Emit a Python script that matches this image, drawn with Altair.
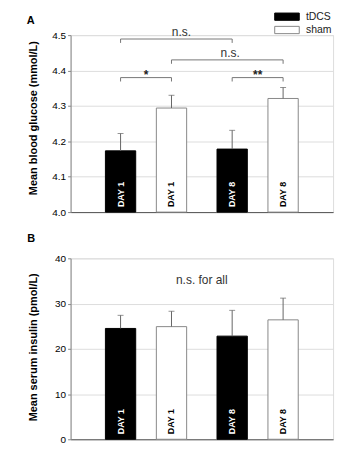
import altair as alt
import pandas as pd

FONT = "Liberation Sans"

groups = ["tDCS", "sham"]
days = ["DAY 1", "DAY 8"]

# Panel A: blood glucose (mmol/L), mean and error per day
glucose_tdcs = [4.173, 4.178]
glucose_sham = [4.294, 4.321]
glucose_tdcs_err = [0.049, 0.053]
glucose_sham_err = [0.036, 0.031]

# Panel B: serum insulin (pmol/L)
insulin_tdcs = [24.5, 22.8]
insulin_sham = [24.9, 26.4]
insulin_tdcs_err = [2.9, 5.7]
insulin_sham_err = [3.4, 4.8]

glucose_ticks = [4.0, 4.1, 4.2, 4.3, 4.4, 4.5]
insulin_ticks = [0, 10, 20, 30, 40]

# significance brackets (panel A)
br_from_day = ["DAY 1", "DAY 1", "DAY 1", "DAY 8"]
br_from_group = ["tDCS", "sham", "tDCS", "tDCS"]
br_to_day = ["DAY 8", "DAY 8", "DAY 1", "DAY 8"]
br_to_group = ["tDCS", "sham", "sham", "sham"]
br_level = [4.489, 4.430, 4.380, 4.380]
br_label = ["n.s.", "n.s.", "*", "**"]
# bar used to anchor each bracket label
br_label_day = ["DAY 1", "DAY 8", "DAY 1", "DAY 8"]
br_label_group = ["sham", "tDCS", None, None]

note_b = "n.s. for all"
note_b_level = 35.2

W = 264
HA = 178
HB = 182


def bar_df(tdcs, sham, tdcs_err, sham_err):
    rows = []
    for i, d in enumerate(days):
        rows.append({"day": d, "group": "tDCS", "mean": tdcs[i], "err": tdcs_err[i]})
        rows.append({"day": d, "group": "sham", "mean": sham[i], "err": sham_err[i]})
    df = pd.DataFrame(rows)
    df["hi"] = df["mean"] + df["err"]
    return df


xenc = alt.X("day:N", scale=alt.Scale(domain=days, paddingInner=0, paddingOuter=0.176),
             axis=alt.Axis(title=None, labels=False, ticks=False, domainColor="#555"))
xoff = alt.XOffset("group:N", scale=alt.Scale(domain=groups, paddingInner=0.405, paddingOuter=0.298))
fill_enc = alt.Fill("group:N", scale=alt.Scale(domain=groups, range=["black", "white"]), legend=None)
stroke_enc = alt.Stroke("group:N", scale=alt.Scale(domain=groups, range=["black", "#888888"]), legend=None)
text_col = alt.Color("group:N", scale=alt.Scale(domain=groups, range=["white", "black"]), legend=None)


def make_y(domain, ticks, fmt, title, title_y):
    yaxis = alt.Axis(values=ticks, format=fmt, title=title, tickSize=3, labelPadding=2,
                     labelOverlap=False,
                     titleX=-37, titleY=title_y, titleAngle=270, titleBaseline="middle",
                     titleAlign="center")
    yscale = alt.Scale(domain=domain, zero=False, nice=False)

    def y(field):
        return alt.Y(field, scale=yscale, axis=yaxis, title=title)
    return y


def panel_layers(df, y, domain, height):
    base = alt.Chart(df)
    bars = base.mark_bar(strokeWidth=1).encode(
        x=xenc, xOffset=xoff, y=y("mean:Q"), y2=alt.datum(domain[0]),
        fill=fill_enc, stroke=stroke_enc)
    stems = base.mark_rule(color="#666666", strokeWidth=1).encode(
        x=xenc, xOffset=xoff, y=y("mean:Q"), y2="hi:Q")
    caps = base.mark_tick(color="#666666", size=6, thickness=1).encode(
        x=xenc, xOffset=xoff, y=y("hi:Q"))
    labels = base.mark_text(angle=270, align="left", baseline="middle", dx=5,
                            fontSize=9, fontWeight="bold", font=FONT).encode(
        x=xenc, xOffset=xoff, y=alt.value(height), text="day:N", color=text_col)
    return [bars, stems, caps, labels]


yA = make_y([4.0, 4.5], glucose_ticks, ".1f", "Mean blood glucose (mmol/L)", 83)
yB = make_y([0, 40], insulin_ticks, "d", "Mean serum insulin (pmol/L)", 89)

dfA = bar_df(glucose_tdcs, glucose_sham, glucose_tdcs_err, glucose_sham_err)
dfB = bar_df(insulin_tdcs, insulin_sham, insulin_tdcs_err, insulin_sham_err)

layersA = panel_layers(dfA, yA, [4.0, 4.5], HA)
layersB = panel_layers(dfB, yB, [0, 40], HB)

# brackets
drop = 0.011
brows = []
for i in range(len(br_level)):
    pts = [(br_from_day[i], br_from_group[i], br_level[i] - drop),
           (br_from_day[i], br_from_group[i], br_level[i]),
           (br_to_day[i], br_to_group[i], br_level[i]),
           (br_to_day[i], br_to_group[i], br_level[i] - drop)]
    for k, (d, g, yy) in enumerate(pts):
        brows.append({"bid": i, "ord": k, "day": d, "group": g, "y": yy})
br_df = pd.DataFrame(brows)
brackets = alt.Chart(br_df).mark_line(color="#777777", strokeWidth=1).encode(
    x=xenc, xOffset=xoff, y=yA("y:Q"), detail="bid:N", order="ord:Q")

lab_df = pd.DataFrame({"bid": list(range(4)), "label": br_label, "level": br_level,
                       "day": br_label_day, "group": br_label_group})
stars = alt.Chart(lab_df).transform_filter(alt.datum.bid >= 2).mark_text(
    fontSize=12, fontWeight="bold", font=FONT, baseline="alphabetic", dy=1, color="#222").encode(
    x=xenc, y=yA("level:Q"), text="label:N")
ns1 = alt.Chart(lab_df).transform_filter(alt.datum.bid == 0).mark_text(
    fontSize=12, font=FONT, baseline="alphabetic", dy=-3, dx=10, color="#333").encode(
    x=xenc, xOffset=xoff, y=yA("level:Q"), text="label:N")
ns2 = alt.Chart(lab_df).transform_filter(alt.datum.bid == 1).mark_text(
    fontSize=12, font=FONT, baseline="alphabetic", dy=-3, dx=-2, color="#333").encode(
    x=xenc, xOffset=xoff, y=yA("level:Q"), text="label:N")

# legend (panel A, top right)
leg_df = pd.DataFrame({"group": groups})
leg_layers = []
for i, g in enumerate(groups):
    y0 = -22.2 + i * 13.4
    leg_layers.append(alt.Chart(leg_df).transform_filter(alt.datum.group == g).mark_rect(strokeWidth=1).encode(
        x=alt.value(205.3), x2=alt.value(230), y=alt.value(y0), y2=alt.value(y0 + 7.3),
        fill=fill_enc, stroke=stroke_enc))
    leg_layers.append(alt.Chart(leg_df).transform_filter(alt.datum.group == g).mark_text(
        align="left", baseline="middle", fontSize=10.5, font=FONT, color="#222").encode(
        x=alt.value(236.7), y=alt.value(y0 + 3.8), text="group:N"))

letterA = alt.Chart(pd.DataFrame({"t": ["A"]})).mark_text(
    align="left", baseline="alphabetic", fontSize=11, fontWeight="bold", font=FONT, color="black").encode(
    x=alt.value(-44), y=alt.value(-11.5), text="t:N")
letterB = alt.Chart(pd.DataFrame({"t": ["B"]})).mark_text(
    align="left", baseline="alphabetic", fontSize=11, fontWeight="bold", font=FONT, color="black").encode(
    x=alt.value(-43.5), y=alt.value(-16), text="t:N")

noteB = alt.Chart(pd.DataFrame({"t": [note_b], "v": [note_b_level]})).mark_text(
    baseline="middle", align="center", fontSize=12, font=FONT, color="#333").encode(
    x=alt.value(W / 2), y=yB("v:Q"), text="t:N")

chartA = alt.layer(*layersA, brackets, stars, ns1, ns2, *leg_layers, letterA).properties(width=W, height=HA)
chartB = alt.layer(*layersB, noteB, letterB).properties(width=W, height=HB)

chart = alt.vconcat(chartA, chartB, spacing=46.5, bounds="flush").resolve_scale(
    y="independent"
).properties(
    padding={"left": 26, "top": 10, "right": 11, "bottom": 11},
).configure_view(stroke=None).configure_axis(
    grid=False, labelFont=FONT, labelFontSize=11.5, labelColor="#333333",
    titleFont=FONT, titleFontSize=12, titleFontWeight="bold", titleColor="black",
    domainColor="#555555", tickColor="#555555",
).configure(background="white")

chart.save("out.html", embed_options={"renderer": "svg", "actions": False})
